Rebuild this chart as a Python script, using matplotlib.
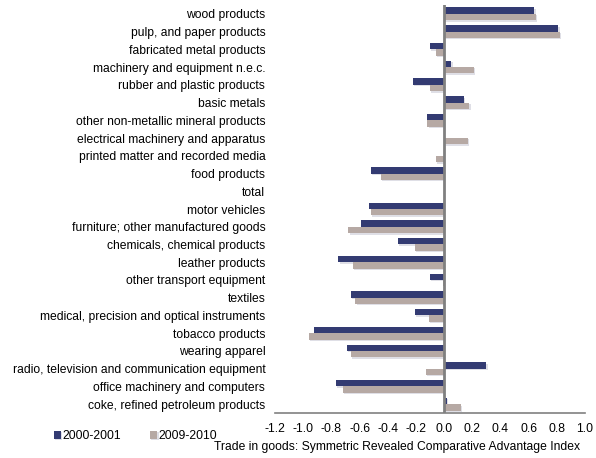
#!/usr/bin/env python3
"""
Symmetric Revealed Comparative Advantage Index - horizontal bar chart
"""

import numpy as np
import matplotlib
matplotlib.use('Agg')
import matplotlib.pyplot as plt
import matplotlib.patheffects as pe

plt.rcParams['font.family'] = ['Liberation Sans', 'DejaVu Sans']

# categories, top to bottom
categories = [
    'wood products',
    'pulp, and paper products',
    'fabricated metal products',
    'machinery and equipment n.e.c.',
    'rubber and plastic products',
    'basic metals',
    'other non-metallic mineral products',
    'electrical machinery and apparatus',
    'printed matter and recorded media',
    'food products',
    'total',
    'motor vehicles',
    'furniture; other manufactured goods',
    'chemicals, chemical products',
    'leather products',
    'other transport equipment',
    'textiles',
    'medical, precision and optical instruments',
    'tobacco products',
    'wearing apparel',
    'radio, television and communication equipment',
    'office machinery and computers',
    'coke, refined petroleum products',
]

srca_2000 = [0.64, 0.81, -0.10, 0.05, -0.22, 0.14, -0.12, 0.0, 0.0, -0.52, 0.0,
             -0.53, -0.59, -0.33, -0.75, -0.10, -0.66, -0.21, -0.92, -0.69,
             0.30, -0.77, 0.02]
srca_2009 = [0.65, 0.82, -0.06, 0.21, -0.10, 0.18, -0.12, 0.17, -0.06, -0.45, 0.0,
             -0.52, -0.68, -0.21, -0.65, -0.01, -0.63, -0.11, -0.96, -0.66,
             -0.13, -0.72, 0.12]

labels = ['2000-2001', '2009-2010']
x_ticks = [-1.2, -1.0, -0.8, -0.6, -0.4, -0.2, 0.0, 0.2, 0.4, 0.6, 0.8, 1.0]

BLUE = '#333b72'
GRAY = '#b6a9a4'
FS = 8.7

fig = plt.figure(figsize=(5.96, 4.58), dpi=100)
ax = fig.add_axes([275 / 596, 1 - 413 / 458, 310 / 596, 408 / 458])

y = np.arange(len(categories))
h = 0.36
shadow = [pe.SimplePatchShadow(offset=(1, -1), shadow_rgbFace='#d8d8e0', alpha=0.8), pe.Normal()]
b1 = ax.barh(y - h / 2, srca_2000, height=h, color=BLUE, label=labels[0])
b2 = ax.barh(y + h / 2, srca_2009, height=h, color=GRAY, label=labels[1])
for bars in (b1, b2):
    for p in bars:
        p.set_path_effects(shadow)

ax.set_ylim(len(categories) - 0.5, -0.5)
ax.set_xlim(-1.2, 1.0)
ax.set_xticks(x_ticks)
ax.set_xticklabels([f'{t:.1f}' for t in x_ticks], fontsize=FS)
ax.set_yticks(y)
ax.set_yticklabels(categories, fontsize=FS)
ax.tick_params(axis='y', length=0, pad=7)
ax.tick_params(axis='x', length=0, pad=7)

for s in ['top', 'right', 'left']:
    ax.spines[s].set_visible(False)
ax.spines['bottom'].set_color('#808080')
ax.spines['bottom'].set_linewidth(1.2)
ax.axvline(0, color='#808080', linewidth=2, zorder=3)

fig.text(580 / 596, 1 - 447 / 458, 'Trade in goods: Symmetric Revealed Comparative Advantage Index',
         ha='right', va='center', fontsize=FS)

fig.legend(handles=[b1, b2], labels=labels, loc='center left',
           bbox_to_anchor=(49 / 596, 1 - 436 / 458), ncol=2, frameon=False,
           fontsize=FS, handlelength=0.6, handleheight=0.6, handletextpad=0.1,
           columnspacing=2.4, borderaxespad=0)

fig.savefig('out.png', dpi=100)
